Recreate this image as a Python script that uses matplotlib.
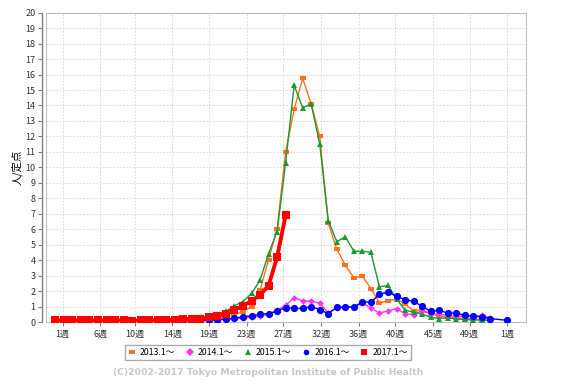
import numpy as np
import matplotlib
matplotlib.use('Agg')
import matplotlib.pyplot as plt
from matplotlib.lines import Line2D

plt.rcParams['font.family'] = ['Noto Sans CJK JP', 'DejaVu Sans']

nan = np.nan

# 週ごとの値 (54スロット, 前年末週 ~ 翌年1週)
y2013 = [0.1, 0.1, 0.12, 0.1, 0.1, 0.08, 0.1, 0.1, 0.08, 0.1, 0.1, 0.1, 0.12, 0.12,
         0.13, 0.15, 0.15, 0.18, 0.2, 0.25, 0.32, 0.5, 0.65, 1.0, 2.05, 4.04, 6.0, 11.0,
         13.75, 15.75, 14.1, 12.0, 6.4, 4.7, 3.67, 2.87, 2.96, 2.16, 1.25, 1.36, 1.5, 1.15,
         0.72, 0.76, 0.55, 0.4, 0.32, 0.28, 0.22, 0.22, 0.15, 0.1, nan, nan]
y2014 = [0.05, 0.05, 0.05, 0.05, 0.05, 0.05, 0.05, 0.05, 0.05, 0.05, 0.05, 0.05, 0.06, 0.06,
         0.07, 0.08, 0.08, 0.1, 0.1, 0.12, 0.15, 0.2, 0.25, 0.3, 0.38, 0.5, 0.75, 1.08,
         1.58, 1.36, 1.36, 1.23, 0.58, 0.93, 0.97, 0.97, 1.23, 0.9, 0.58, 0.72, 0.87, 0.54,
         0.48, 0.71, 0.54, 0.5, 0.43, 0.37, 0.37, 0.37, 0.43, 0.28, nan, nan]
y2015 = [0.12, 0.2, 0.12, 0.1, 0.12, 0.1, 0.1, 0.12, 0.1, 0.1, 0.1, 0.12, 0.13, 0.15,
         0.17, 0.2, 0.25, 0.3, 0.35, 0.5, 0.7, 1.05, 1.32, 1.85, 2.7, 4.43, 5.85, 10.3,
         15.3, 13.85, 14.1, 11.5, 6.55, 5.2, 5.5, 4.58, 4.58, 4.5, 2.27, 2.37, 1.5, 0.76,
         0.65, 0.5, 0.32, 0.22, 0.28, 0.19, 0.17, 0.13, 0.13, 0.08, nan, nan]
y2016 = [0.06, 0.05, 0.06, 0.08, 0.05, 0.05, 0.06, 0.05, 0.05, 0.05, 0.06, 0.08, 0.06, 0.06,
         0.07, 0.08, 0.08, 0.08, 0.1, 0.15, 0.2, 0.25, 0.33, 0.4, 0.5, 0.55, 0.7, 0.93,
         0.88, 0.88, 1.0, 0.8, 0.54, 0.95, 0.97, 0.99, 1.29, 1.29, 1.79, 1.94, 1.66, 1.45,
         1.34, 1.02, 0.69, 0.76, 0.58, 0.58, 0.43, 0.39, 0.32, 0.22, nan, 0.11]
y2017 = [0.1, 0.12, 0.1, 0.1, 0.1, 0.1, 0.1, 0.1, 0.1, 0.08, 0.1, 0.12, 0.12, 0.13,
         0.15, 0.17, 0.2, 0.22, 0.3, 0.4, 0.55, 0.78, 1.05, 1.38, 1.75, 2.35, 4.2, 6.9]

labels = ['2013.1～', '2014.1～', '2015.1～', '2016.1～', '2017.1～']
month_days = [0, 31, 59, 90, 120, 151, 181, 212, 243, 273, 304, 334, 365]
tick_labels = ['1週', '6週', '10週', '14週', '19週', '23週', '27週', '32週',
               '36週', '40週', '45週', '49週', '1週']

rect = [(-1, -0.55), (1, -0.55), (1, 0.55), (-1, 0.55), (-1, -0.55)]
styles = [
    dict(color='#ff7020', marker=rect, ms=5, lw=1.0, zorder=3),
    dict(color='#ff33ff', marker='D', ms=3.4, lw=1.0, zorder=4),
    dict(color='#1e9632', marker='^', ms=4.8, lw=1.0, zorder=5),
    dict(color='#0000ff', marker='o', ms=5.2, lw=1.0, zorder=6),
    dict(color='#ff0000', marker='s', ms=5.2, lw=2.8, zorder=7),
]

fig = plt.figure(figsize=(5.72, 3.82), dpi=100)
ax = fig.add_axes([0.0804, 0.157, 0.8392, 0.8098])

for vals, lab, st in zip([y2013, y2014, y2015, y2016, y2017], labels, styles):
    days = [7 * i - 6 for i in range(len(vals))]
    v = np.array(vals, dtype=float)
    ok = ~np.isnan(v)
    ax.plot(np.array(days)[ok], v[ok], color=st['color'], lw=st['lw'],
            marker=st['marker'], markersize=st['ms'], markeredgewidth=0,
            zorder=st['zorder'], label=lab)

ax.set_xlim(-13.7, 380.3)
ax.set_ylim(0, 20)
ax.set_yticks(range(0, 21))
ax.set_xticks(month_days)
ax.set_xticklabels(tick_labels)

ax.grid(True, color='#d4d4d4', linestyle=(0, (2, 2)), linewidth=0.6)
ax.set_axisbelow(True)

for s in ['top', 'right', 'bottom']:
    ax.spines[s].set_color('#c0c0c0')
    ax.spines[s].set_linewidth(0.8)
ax.spines['left'].set_position(('outward', 3))
ax.spines['left'].set_color('#808080')
ax.spines['left'].set_linewidth(1.0)
ax.axvline(-13.7, color='#c0c0c0', lw=0.8, zorder=1)

ax.tick_params(axis='y', length=3, width=0.8, color='#808080', pad=1.5,
               labelsize=6.5, labelcolor='#333333')
ax.tick_params(axis='x', length=3, width=0.8, color='#808080', pad=3,
               labelsize=6.5, labelcolor='#333333')

ax.set_ylabel('人/定点', fontsize=7.5, labelpad=2)

handles = [Line2D([], [], color=st['color'], marker=st['marker'], linestyle='none',
                  markersize=4, markeredgewidth=0) for st in styles]
fig.legend(handles, labels, loc='center', bbox_to_anchor=(0.4685, 0.077), ncol=5,
           fontsize=6.3, frameon=True, fancybox=False, edgecolor='#aaaaaa',
           handlelength=0.8, handletextpad=0.5, columnspacing=1.3,
           borderpad=0.35, framealpha=1)

fig.text(0.4695, 0.026, '(C)2002-2017 Tokyo Metropolitan Institute of Public Health',
         ha='center', va='center', fontsize=6.7, fontweight='bold', color='#c8c8c8',
         family='DejaVu Sans')

fig.savefig('out.png', dpi=100)
